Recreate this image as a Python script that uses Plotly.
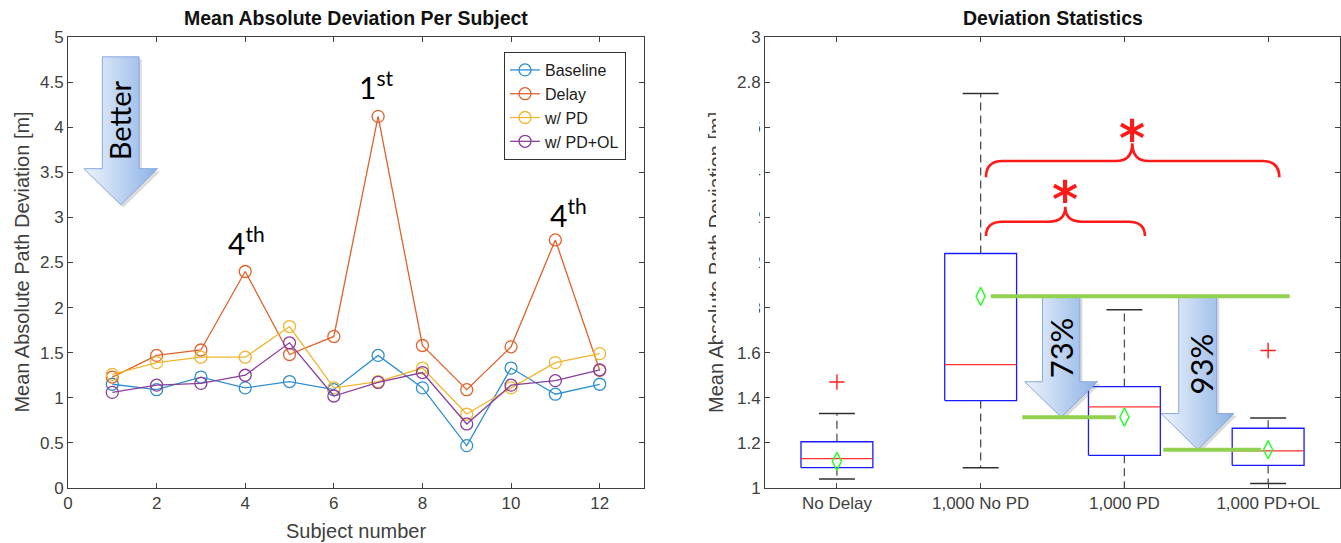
import numpy as np
import plotly.graph_objects as go

# ---------------- data ----------------
subjects = list(range(1, 13))
baseline = [1.15, 1.09, 1.23, 1.11, 1.18, 1.09, 1.47, 1.11, 0.47, 1.33, 1.04, 1.15]
delay = [1.23, 1.47, 1.53, 2.40, 1.48, 1.68, 4.12, 1.58, 1.09, 1.565, 2.75, 1.305]
with_pd = [1.26, 1.39, 1.45, 1.45, 1.79, 1.11, 1.18, 1.33, 0.82, 1.11, 1.39, 1.49]
with_pd_ol = [1.06, 1.14, 1.16, 1.25, 1.61, 1.02, 1.17, 1.28, 0.71, 1.14, 1.19, 1.31]
series_names = ["Baseline", "Delay", "w/ PD", "w/ PD+OL"]
series_colors = ["#2f8fd0", "#e0622c", "#efb62e", "#8a3f9a"]

categories = ["No Delay", "1,000 No PD", "1,000 PD", "1,000 PD+OL"]
box_groups = [baseline, delay, with_pd, with_pd_ol]

left_xticks = [0, 2, 4, 6, 8, 10, 12]
rank_labels = [(4, "4<sup>th</sup>"), (7, "1<sup>st</sup>"), (11, "4<sup>th</sup>")]
reductions = ["73%", "93%"]

FONT = "Liberation Sans, Arial, sans-serif"
SLIDE = "Lato, Open Sans, sans-serif"
AX = "#404040"

fig = go.Figure()

# ---------------- left: per subject lines ----------------
for name, vals, col in zip(series_names, [baseline, delay, with_pd, with_pd_ol], series_colors):
    fig.add_trace(go.Scatter(
        x=subjects, y=vals, name=name, mode="lines+markers",
        line=dict(color=col, width=1.3),
        marker=dict(symbol="circle-open", size=12, color=col, line=dict(width=1.3)),
        xaxis="x", yaxis="y"))


def arrow(xc, shaft_hw, head_hw, y_top, y_tip, head_len):
    yb = y_tip + head_len
    xs = [xc - shaft_hw, xc + shaft_hw, xc + shaft_hw, xc + head_hw, xc,
          xc - head_hw, xc - shaft_hw, xc - shaft_hw]
    ys = [y_top, y_top, yb, yb, y_tip, yb, yb, y_top]
    return xs, ys


def add_arrow(xs, ys, xa, ya, dx, dy):
    # soft shadow
    fig.add_trace(go.Scatter(x=[v + dx for v in xs], y=[v + dy for v in ys], mode="lines",
                             fill="toself", fillcolor="rgba(110,110,110,0.25)",
                             line=dict(width=0), hoverinfo="skip", showlegend=False,
                             xaxis=xa, yaxis=ya))
    fig.add_trace(go.Scatter(x=xs, y=ys, mode="lines", fill="toself",
                             fillgradient=dict(type="horizontal",
                                               colorscale=[[0, "#eef4fc"], [1, "#8db2e6"]]),
                             line=dict(color="#86a9dc", width=1), hoverinfo="skip",
                             showlegend=False, xaxis=xa, yaxis=ya))


bx, by = arrow(1.19, 0.415, 0.83, 4.78, 3.14, 0.40)
add_arrow(bx, by, "x", "y", 0.06, -0.03)

# ---------------- right: box statistics ----------------
means = []
for i, vals in enumerate(box_groups):
    c = i + 1
    v = np.array(vals)
    q1, med, q3 = np.percentile(v, [25, 50, 75], method="hazen")
    iqr = q3 - q1
    lo = v[v >= q1 - 1.5 * iqr].min()
    hi = v[v <= q3 + 1.5 * iqr].max()
    out = v[(v < q1 - 1.5 * iqr) | (v > q3 + 1.5 * iqr)]
    means.append(v.mean())
    hw, cw = 0.25, 0.125
    # whiskers (dashed)
    fig.add_trace(go.Scatter(x=[c, c, None, c, c], y=[q3, hi, None, q1, lo], mode="lines",
                             line=dict(color="#505050", width=1.3, dash="8px,5px"),
                             showlegend=False, hoverinfo="skip", xaxis="x2", yaxis="y2"))
    # caps
    fig.add_trace(go.Scatter(x=[c - cw, c + cw, None, c - cw, c + cw], y=[hi, hi, None, lo, lo],
                             mode="lines", line=dict(color="#303030", width=1.5),
                             showlegend=False, hoverinfo="skip", xaxis="x2", yaxis="y2"))
    # box
    fig.add_trace(go.Scatter(x=[c - hw, c + hw, c + hw, c - hw, c - hw], y=[q1, q1, q3, q3, q1],
                             mode="lines", line=dict(color="#1a1aff", width=1.3),
                             showlegend=False, hoverinfo="skip", xaxis="x2", yaxis="y2"))
    # median
    fig.add_trace(go.Scatter(x=[c - hw, c + hw], y=[med, med], mode="lines",
                             line=dict(color="#ff3030", width=1.3),
                             showlegend=False, hoverinfo="skip", xaxis="x2", yaxis="y2"))
    # outliers
    if len(out):
        fig.add_trace(go.Scatter(x=[c] * len(out), y=out, mode="markers",
                                 marker=dict(symbol="cross-thin", size=11, color="#ff2020",
                                             line=dict(color="#ff2020", width=1.4)),
                                 cliponaxis=True, showlegend=False, hoverinfo="skip",
                                 xaxis="x2", yaxis="y2"))

# reduction arrows (top at No-PD mean, tip at target mean)
a1x, a1y = arrow(2.56, 0.13, 0.253, means[1], means[2], 0.157)
a2x, a2y = arrow(3.51, 0.132, 0.253, means[1], means[3], 0.16)
add_arrow(a1x, a1y, "x2", "y2", 0.018, -0.011)
add_arrow(a2x, a2y, "x2", "y2", 0.018, -0.011)

# green reference lines at the means
GREEN = "#92d050"
for (x0, x1), m in zip([(2.07, 4.15), (2.29, 2.94), (3.27, 3.95)], [means[1], means[2], means[3]]):
    fig.add_trace(go.Scatter(x=[x0, x1], y=[m, m], mode="lines",
                             line=dict(color=GREEN, width=4), showlegend=False,
                             hoverinfo="skip", xaxis="x2", yaxis="y2"))

# mean diamonds
fig.add_trace(go.Scatter(x=[1, 2, 3, 4], y=means, mode="markers",
                         marker=dict(symbol="diamond-tall-open", size=13, color="#22ff22",
                                     line=dict(color="#22ff22", width=1.4)),
                         showlegend=False, hoverinfo="skip", xaxis="x2", yaxis="y2"))

# ---------------- braces ----------------
def brace(x0, x1, xp, yb, yh, yp, rx, ry):
    return (f"M {x0},{yb} Q {x0},{yh} {x0 + rx},{yh} L {xp - rx},{yh} "
            f"Q {xp},{yh} {xp},{yp} Q {xp},{yh} {xp + rx},{yh} "
            f"L {x1 - rx},{yh} Q {x1},{yh} {x1},{yb}")

shapes = [
    dict(type="path", xref="x2", yref="y2",
         path=brace(2.037, 4.078, 3.055, 2.378, 2.450, 2.529, 0.115, 0.07),
         line=dict(color="#ff1a1a", width=2.6)),
    dict(type="path", xref="x2", yref="y2",
         path=brace(2.037, 3.143, 2.589, 2.117, 2.181, 2.247, 0.115, 0.07),
         line=dict(color="#ff1a1a", width=2.6)),
]

# ---------------- annotations ----------------
C = dict(xanchor="center", yanchor="middle", showarrow=False)
ann = []
ann.append(dict(text="<b>Mean Absolute Deviation Per Subject</b>", xref="paper", yref="paper",
                x=0.2264, y=1.042, font=dict(family=FONT, size=19.5, color="#111"), **C))
ann.append(dict(text="<b>Deviation Statistics</b>", xref="paper", yref="paper",
                x=0.774, y=1.042, font=dict(family=FONT, size=19.5, color="#111"), **C))
ann.append(dict(text="Subject number", xref="paper", yref="paper", x=0.2264, y=-0.0945,
                font=dict(family=FONT, size=20, color=AX), **C))
ann.append(dict(text="Mean Absolute Path Deviation [m]", xref="paper", yref="paper",
                x=-0.0365, y=0.501, textangle=-90,
                font=dict(family=FONT, size=20, color=AX), **C))
ann.append(dict(text="Mean Absolute Path Deviation [m]", xref="paper", yref="paper",
                x=0.5094, y=0.501, textangle=-90,
                font=dict(family=FONT, size=20, color=AX), **C))
# white patch hiding part of the right axis label / tick labels (as in the reference)
ann.append(dict(text=" ", xref="paper", yref="paper", x=0.5260, y=0.594, width=43, height=240,
                bgcolor="white", borderpad=0, borderwidth=0, font=dict(size=2), **C))

rank_pos = {4: (4.04, 2.74), 7: (6.95, 4.47), 11: (11.3, 3.05)}
for sx, txt in rank_labels:
    px, py = rank_pos[sx]
    ann.append(dict(text=txt, x=px, y=py, xref="x", yref="y",
                    font=dict(family=SLIDE, size=30, color="black"), **C))
ann.append(dict(text="Better", x=1.18, y=4.08, xref="x", yref="y", textangle=-90,
                font=dict(family=SLIDE, size=29, color="black"), **C))
ann.append(dict(text=reductions[0], x=2.56, y=1.62, xref="x2", yref="y2", textangle=-90,
                font=dict(family=SLIDE, size=31, color="black"), **C))
ann.append(dict(text=reductions[1], x=3.53, y=1.55, xref="x2", yref="y2", textangle=-90,
                font=dict(family=SLIDE, size=31, color="black"), **C))
for (axx, axy) in [(3.055, 2.591), (2.589, 2.321)]:
    ann.append(dict(text="<b>*</b>", x=axx, y=axy, xref="x2", yref="y2",
                    yshift=-10, font=dict(family="DejaVu Sans", size=50, color="#ff1a1a"), **C))

axis_common = dict(showline=True, linecolor=AX, linewidth=1, mirror="ticks", ticks="inside",
                   ticklen=5, tickcolor=AX, showgrid=False, zeroline=False,
                   tickfont=dict(family=FONT, size=17, color=AX))

fig.update_layout(
    width=1341, height=543,
    margin=dict(l=68, r=1, t=37, b=55),
    paper_bgcolor="white", plot_bgcolor="white",
    xaxis=dict(domain=[0, 0.4528], range=[0, 13], tickvals=left_xticks, anchor="y", **axis_common),
    yaxis=dict(range=[0, 5], dtick=0.5, tick0=0, anchor="x", **axis_common),
    xaxis2=dict(domain=[0.548, 1], range=[0.5, 4.5], tickvals=[1, 2, 3, 4], ticktext=categories,
                anchor="y2", **axis_common),
    yaxis2=dict(range=[1, 3], dtick=0.2, tick0=1, anchor="x2", **axis_common),
    legend=dict(x=0.4387, y=0.9667, xref="paper", yref="paper", xanchor="right", yanchor="top",
                bgcolor="white", bordercolor="#303030", borderwidth=1,
                font=dict(family=FONT, size=16, color="#202020"), tracegroupgap=0),
    shapes=shapes,
    annotations=ann,
    showlegend=True,
)

fig.write_html("out.html")
